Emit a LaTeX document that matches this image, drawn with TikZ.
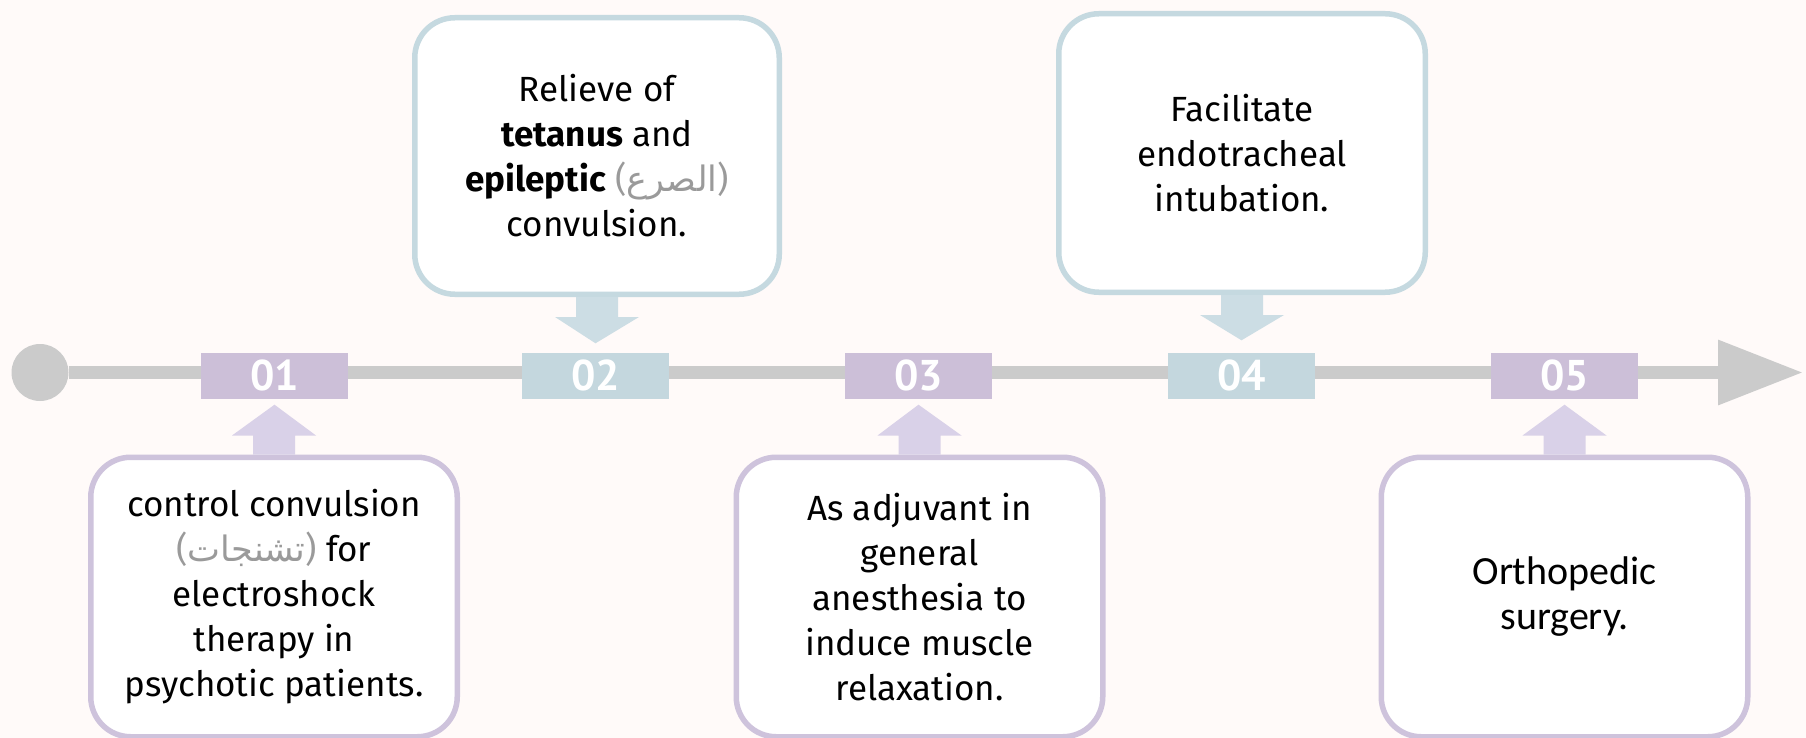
\documentclass[tikz,border=0pt]{standalone}
\usepackage{fontspec}
\setmainfont{Fira Sans}
\newfontfamily\arabicfont[Script=Arabic]{DejaVu Sans}
\newfontfamily\calfont{Carlito}
\newfontfamily\tagfont{PT Sans}
\TeXXeTstate=1
\usetikzlibrary{arrows.meta,calc}
\definecolor{bg}{HTML}{FFFAF9}
\definecolor{lgray}{HTML}{CBCBCB}
\definecolor{plabel}{HTML}{CCBFD8}
\definecolor{parrow}{HTML}{D9D1E8}
\definecolor{pborder}{HTML}{CEC3DC}
\definecolor{blabel}{HTML}{C4D7DE}
\definecolor{barrow}{HTML}{CCDDE4}
\definecolor{bborder}{HTML}{C5D9E0}
\definecolor{argray}{HTML}{9A9A9A}
\newcommand\BlockArrow[5]{%
  \fill[#1] ($(#2)+(-21,0)$) -- ($(#2)+(-21,#4)$) -- ($(#2)+(-42,#4)$) --
    ($(#3)+(0,#5)$) -- ($(#2)+(42,#4)$) -- ($(#2)+(21,#4)$) -- ($(#2)+(21,0)$) -- cycle;}
\newcommand\ArWord[1]{{\color{argray}(\hbox{\arabicfont\beginR #1\endR})}}
\tikzset{
  card/.style={draw, line width=5.5pt, fill=white, rounded corners=40pt,
    minimum width=366.5pt, minimum height=279.5pt, align=center, inner sep=0pt,
    font=\fontsize{35}{45}\selectfont},
  pcard/.style={card, draw=pborder},
  bcard/.style={card, draw=bborder},
  tag/.style={minimum width=147pt, minimum height=46pt, inner sep=0pt, text=white,
    font=\tagfont\fontsize{43}{43}\selectfont\bfseries},
  ptag/.style={tag, fill=plabel},
  btag/.style={tag, fill=blabel},
  timeline/.style={line width=13pt, draw=lgray, -{Triangle[length=85pt,width=62pt]}},
}
\begin{document}
\begin{tikzpicture}[x=1pt,y=-1pt]
\fill[bg] (0,0) rectangle (1806,738);
\useasboundingbox (0,0) rectangle (1806,738);

% timeline
\node[circle, fill=lgray, minimum size=57pt, inner sep=0pt] (start) at (40,372.5) {};
\coordinate (end) at (1803,372.5);
\draw[timeline] (start.east) -- (end);

% tags
\node[ptag] (l1) at (274.5,375.5) {01};
\node[btag] (l2) at (595.5,375.5) {02};
\node[ptag] (l3) at (918.5,375.5) {03};
\node[btag] (l4) at (1241.5,375.5) {04};
\node[ptag] (l5) at (1564.5,375.5) {05};

% cards
\node[pcard] (c1) at (274,597) {control convulsion\\
  \ArWord{تشنجات} for\\
  electroshock\\ therapy in\\ psychotic patients.};
\node[bcard, minimum width=364.5pt, minimum height=276.5pt] (c2) at (597,156) {Relieve of\\
  \textbf{tetanus} and\\
  \textbf{epileptic} \ArWord{الصرع}\\
  convulsion.};
\node[pcard] (c3) at (919.5,597) {As adjuvant in\\ general\\ anesthesia to\\ induce muscle\\ relaxation.};
\node[bcard, minimum height=278.5pt] (c4) at (1242,153) {Facilitate\\ endotracheal\\ intubation.};
\node[pcard, font=\calfont\fontsize{40}{45}\selectfont] (c5) at (1564.5,597) {Orthopedic\\ surgery.};

% block arrows
\BlockArrow{parrow}{c1.north}{l1.south}{-19}{6}
\BlockArrow{barrow}{c2.south}{l2.north}{20}{-9}
\BlockArrow{parrow}{c3.north}{l3.south}{-19}{6}
\BlockArrow{barrow}{c4.south}{l4.north}{20}{-12}
\BlockArrow{parrow}{c5.north}{l5.south}{-19}{6}
\end{tikzpicture}
\end{document}
